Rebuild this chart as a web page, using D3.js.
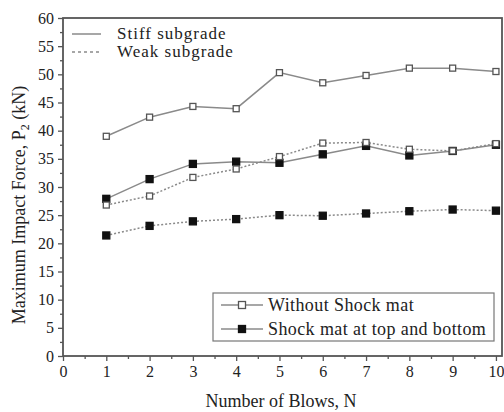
<!DOCTYPE html>
<html>
<head>
<meta charset="utf-8">
<script src="https://cdn.jsdelivr.net/npm/d3@7"></script>
<style>
  body { margin: 0; background: #fff; }
  text { font-family: "Liberation Serif", "Times New Roman", serif; fill: #222; }
</style>
</head>
<body>
<svg class="chart"></svg>
<script>
const blows = [1, 2, 3, 4, 5, 6, 7, 8, 9, 10];
const stiffWithout = [39.0, 42.4, 44.3, 43.9, 50.3, 48.5, 49.8, 51.1, 51.1, 50.5];
const stiffShockMat = [27.9, 31.4, 34.1, 34.5, 34.3, 35.8, 37.3, 35.6, 36.4, 37.5];
const weakWithout = [26.8, 28.4, 31.7, 33.2, 35.4, 37.8, 37.9, 36.7, 36.4, 37.7];
const weakShockMat = [21.4, 23.1, 23.9, 24.3, 25.0, 24.9, 25.3, 25.7, 26.0, 25.8];
const xTicks = d3.range(0, 11);
const yTicks = d3.range(0, 61, 5);

const
  margin = {top: 18, right: 2, bottom: 56, left: 63},
  width = 504 - margin.left - margin.right,
  height = 412 - margin.top - margin.bottom;

const series = [
  {values: stiffWithout, dash: null, filled: false},
  {values: stiffShockMat, dash: null, filled: true},
  {values: weakWithout, dash: "2,2", filled: false},
  {values: weakShockMat, dash: "2,2", filled: true}
];

const xScale = d3.scaleLinear().domain([0, 10.14]).range([0, width]);
const yScale = d3.scaleLinear().domain([0, 60]).range([height, 0]);

const svg = d3.select(".chart")
  .attr("width", 504)
  .attr("height", 412);

const g = svg.append("g")
  .attr("transform", `translate(${margin.left},${margin.top})`);

// minor ticks
g.append("g")
  .attr("transform", `translate(0,${height})`)
  .call(d3.axisBottom(xScale).tickValues(d3.range(0.5, 10.1, 1)).tickSize(3).tickFormat(""))
  .call(a => a.select(".domain").remove());
g.append("g")
  .call(d3.axisLeft(yScale).tickValues(d3.range(2.5, 60, 5)).tickSize(3).tickFormat(""))
  .call(a => a.select(".domain").remove());

const xAxis = g.append("g")
  .attr("transform", `translate(0,${height})`)
  .call(d3.axisBottom(xScale).tickValues(xTicks).tickSize(5).tickPadding(5));
const yAxis = g.append("g")
  .call(d3.axisLeft(yScale).tickValues(yTicks).tickSize(5).tickPadding(4));

[xAxis, yAxis].forEach(a => {
  a.selectAll("text").style("font-family", "Liberation Serif, serif").style("font-size", "16px").attr("fill", "#222");
  a.select(".domain").remove();
});
g.selectAll(".tick line").attr("stroke", "#555").attr("stroke-width", 1.3);

// frame
g.append("rect")
  .attr("width", width).attr("height", height)
  .attr("fill", "none").attr("stroke", "#555").attr("stroke-width", 1.8);

const line = d3.line()
  .x((d, i) => xScale(blows[i]))
  .y(d => yScale(d));

series.forEach(s => {
  g.append("path")
    .datum(s.values)
    .attr("fill", "none")
    .attr("stroke", "#8a8a8a")
    .attr("stroke-width", 1.5)
    .attr("stroke-dasharray", s.dash)
    .attr("d", line);
  g.selectAll(null)
    .data(s.values)
    .enter()
    .append("rect")
      .attr("x", (d, i) => xScale(blows[i]) - (s.filled ? 3.5 : 3))
      .attr("y", d => yScale(d) - (s.filled ? 3.5 : 3))
      .attr("width", s.filled ? 7 : 6)
      .attr("height", s.filled ? 7 : 6)
      .attr("fill", s.filled ? "#111" : "#fff")
      .attr("stroke", s.filled ? "#111" : "#555")
      .attr("stroke-width", 1.3);
});

// top-left legend (line styles)
const lg1 = g.append("g").attr("transform", `translate(${72 - margin.left},${34 - margin.top})`);
[["Stiff subgrade", null], ["Weak subgrade", "3,3"]].forEach((e, i) => {
  lg1.append("line")
    .attr("x1", 0).attr("x2", 29).attr("y1", i * 18).attr("y2", i * 18)
    .attr("stroke", "#8a8a8a").attr("stroke-width", 1.5).attr("stroke-dasharray", e[1]);
  lg1.append("text")
    .attr("x", 45).attr("y", i * 18 + 5)
    .style("font-size", "17px")
    .style("letter-spacing", "1px")
    .text(e[0]);
});

// bottom-right legend (markers)
const lg2 = g.append("g").attr("transform", `translate(${213 - margin.left},${293 - margin.top})`);
lg2.append("rect")
  .attr("width", 281).attr("height", 48)
  .attr("fill", "#fff").attr("stroke", "#777").attr("stroke-width", 1.2);
[["Without Shock mat", false], ["Shock mat at top and bottom", true]].forEach((e, i) => {
  const y = 12 + i * 24;
  lg2.append("line")
    .attr("x1", 8).attr("x2", 50).attr("y1", y).attr("y2", y)
    .attr("stroke", "#8a8a8a").attr("stroke-width", 1.5);
  lg2.append("rect")
    .attr("x", 29 - 3.5).attr("y", y - 3.5).attr("width", 7).attr("height", 7)
    .attr("fill", e[1] ? "#111" : "#fff")
    .attr("stroke", e[1] ? "#111" : "#555").attr("stroke-width", 1.3);
  lg2.append("text")
    .attr("x", 55).attr("y", y + 6)
    .style("font-size", "18px")
    .style("letter-spacing", "0.4px")
    .text(e[0]);
});

// axis titles
svg.append("text")
  .attr("x", 281).attr("y", 407)
  .attr("text-anchor", "middle")
  .style("font-size", "18px")
  .text("Number of Blows, N");

const yt = svg.append("text")
  .attr("transform", "translate(25,205) rotate(-90)")
  .attr("text-anchor", "middle")
  .style("font-size", "18px");
yt.append("tspan").text("Maximum Impact Force, P");
yt.append("tspan").attr("dy", 4).style("font-size", "12px").text("2");
yt.append("tspan").attr("dy", -4).text(" (kN)");
</script>
</body>
</html>
